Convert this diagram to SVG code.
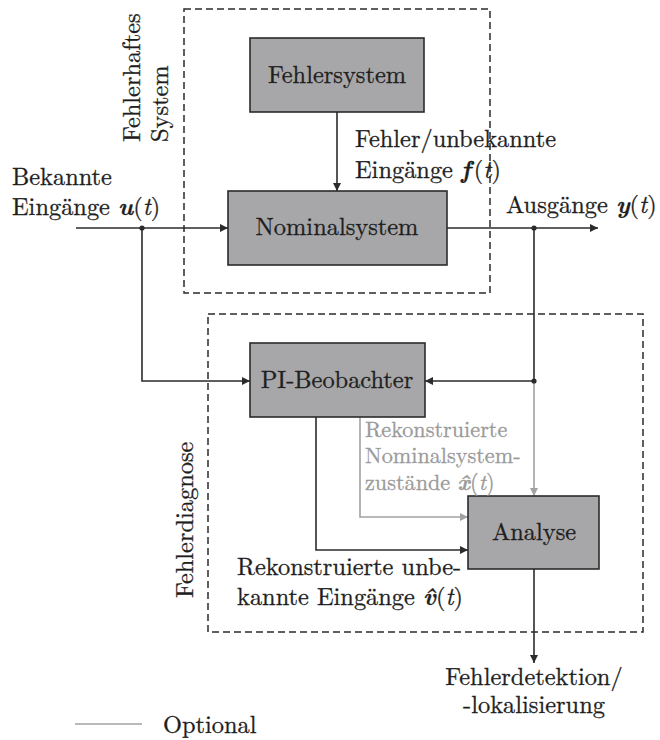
<svg xmlns="http://www.w3.org/2000/svg" width="660" height="740" viewBox="0 0 660 740" font-family="Latin Modern Roman, Liberation Serif, serif">
  <defs>
    <style>
      text { font-size: 24.4px; fill: #1e1e1e; stroke: #1e1e1e; stroke-width: 0.3; }
      .box { fill: #a7a7aa; stroke: #2b2b2b; stroke-width: 1.6; }
      .frame { fill: none; stroke: #2b2b2b; stroke-width: 1.5; stroke-dasharray: 7 4; }
      .wire { fill: none; stroke: #2b2b2b; stroke-width: 1.6; }
      .opt { fill: none; stroke: #a2a2a2; stroke-width: 1.6; }
      text.optText { fill: #9a9a9a; stroke: #9a9a9a; font-size: 22.2px; }
      .c { text-anchor: middle; }
      .b { font-weight: bold; font-style: italic; }
      .i { font-style: italic; }
    </style>
    <marker id="arr" viewBox="0 0 10 10" refX="10" refY="5" markerWidth="9" markerHeight="8" markerUnits="userSpaceOnUse" orient="auto">
      <path d="M0,0 L10,5 L0,10 z" fill="#2b2b2b"/>
    </marker>
    <marker id="arrGray" viewBox="0 0 10 10" refX="10" refY="5" markerWidth="9" markerHeight="8" markerUnits="userSpaceOnUse" orient="auto">
      <path d="M0,0 L10,5 L0,10 z" fill="#a2a2a2"/>
    </marker>
  </defs>

  <!-- dashed grouping frames -->
  <g id="frame-system">
    <rect class="frame" x="184" y="9" width="306" height="284"/>
    <text transform="translate(140,142) rotate(-90)">Fehlerhaftes</text>
    <text transform="translate(168,142) rotate(-90)">System</text>
  </g>
  <g id="frame-diagnosis">
    <rect class="frame" x="208" y="314" width="435" height="318"/>
    <text transform="translate(193,598) rotate(-90)">Fehlerdiagnose</text>
  </g>

  <!-- connectors -->
  <g id="connectors">
    <!-- known inputs -->
    <path class="wire" d="M76,228 H228" marker-end="url(#arr)"/>
    <path class="wire" d="M142,228 V381 H250" marker-end="url(#arr)"/>
    <!-- fault inputs -->
    <path class="wire" d="M337,112 V191" marker-end="url(#arr)"/>
    <!-- outputs -->
    <path class="wire" d="M447,228 H598" marker-end="url(#arr)"/>
    <path class="wire" d="M534,228 V381 H425" marker-end="url(#arr)"/>
    <!-- observer to analysis -->
    <path class="wire" d="M316,417 V550 H468" marker-end="url(#arr)"/>
    <path class="opt" d="M360,417 V517 H468" marker-end="url(#arrGray)"/>
    <path class="opt" d="M534,381 V496" marker-end="url(#arrGray)"/>
    <!-- analysis result -->
    <path class="wire" d="M534,569 V663" marker-end="url(#arr)"/>
    <!-- junction dots -->
    <circle cx="142" cy="228" r="2.6" fill="#2b2b2b"/>
    <circle cx="534" cy="228" r="2.6" fill="#2b2b2b"/>
    <circle cx="534" cy="381" r="2.6" fill="#2b2b2b"/>
  </g>

  <!-- blocks -->
  <g id="fehlersystem">
    <rect class="box" x="250" y="38" width="174" height="74"/>
    <text class="c" x="337" y="83">Fehlersystem</text>
  </g>
  <g id="nominalsystem">
    <rect class="box" x="228" y="191" width="219" height="74"/>
    <text class="c" x="337" y="235">Nominalsystem</text>
  </g>
  <g id="pi-beobachter">
    <rect class="box" x="250" y="343" width="175" height="74"/>
    <text class="c" x="337" y="388">PI-Beobachter</text>
  </g>
  <g id="analyse">
    <rect class="box" x="468" y="496" width="131" height="73"/>
    <text class="c" x="534" y="540">Analyse</text>
  </g>

  <!-- signal labels -->
  <g id="labels">
    <text x="12" y="185">Bekannte</text>
    <text x="12" y="215">Eingänge <tspan class="b">u</tspan>(<tspan class="i">t</tspan>)</text>
    <text x="355" y="147">Fehler/unbekannte</text>
    <text x="355" y="178">Eingänge <tspan class="b">f</tspan><tspan dx="3">(</tspan><tspan class="i">t</tspan>)</text>
    <text x="506" y="213">Ausgänge <tspan class="b">y</tspan>(<tspan class="i">t</tspan>)</text>
    <text class="optText" x="365" y="437">Rekonstruierte</text>
    <text class="optText" x="365" y="463">Nominalsystem-</text>
    <text class="optText" x="365" y="490">zustände <tspan class="b">x̂</tspan>(<tspan class="i">t</tspan>)</text>
    <text x="237" y="575">Rekonstruierte unbe-</text>
    <text x="237" y="605">kannte Eingänge <tspan class="b">v̂</tspan>(<tspan class="i">t</tspan>)</text>
    <text class="c" x="534" y="685">Fehlerdetektion/</text>
    <text class="c" x="534" y="713">-lokalisierung</text>
  </g>

  <!-- legend -->
  <g id="legend">
    <path class="opt" d="M75,724 H142"/>
    <text x="163" y="733">Optional</text>
  </g>
</svg>
